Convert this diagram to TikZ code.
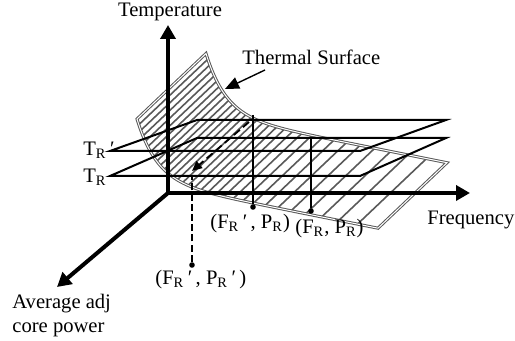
\documentclass[tikz,border=0pt]{standalone}
\usepackage{fontspec}
\setmainfont{Liberation Serif}
\usetikzlibrary{arrows.meta}

\tikzset{
  axisline/.style={line width=2pt, -{Triangle[length=7pt,width=7.5pt]}},
  planeedge/.style={line width=1pt, line join=miter},
  hatchline/.style={gray!70!black, line width=0.8pt},
  surfedge/.style={draw=gray!70!black, double=white, line width=0.5pt, double distance=0.5pt},
  lbl/.style={inner sep=0pt, font=\fontsize{10.3}{12}\selectfont},
  opdot/.style={fill=black, circle, inner sep=0pt, minimum size=2.8pt},
  dropline/.style={line width=0.9pt},
  declare function={surfy(\t)=0.2*\t+152.6-61*exp(-(\t-137)/20);}
}

\begin{document}
\begin{tikzpicture}[x=0.5pt, y=-0.5pt]
    \useasboundingbox (0,0) rectangle (515,341);

    % Thermal surface: hatch along the sheet, then its outline
    \foreach \k in {0,...,31}
        \draw[hatchline] ({115+22*exp(0.08*\k)},{surfy(115+22*exp(0.08*\k))}) -- ++(69,-65.5);
    \draw[surfedge] plot[domain=137:378, samples=90, smooth] (\x,{surfy(\x)})
        -- plot[domain=378:137, samples=90, smooth] ({\x+69},{surfy(\x)-65.5}) -- cycle;

    % Temperature planes T_R' and T_R
    \draw[planeedge] (110,151) -- (197,120) -- (446,120) -- (360,151) -- cycle;
    \draw[planeedge] (110,176) -- (197,138) -- (446,138) -- (360,176) -- cycle;

    % Axes
    \coordinate (O) at (168,193);
    \coordinate (Tend) at (168,25);
    \coordinate (Fend) at (470,193);
    \coordinate (Pend) at (57,287);
    \draw[axisline] (O) -- (Tend);
    \draw[axisline] (O) -- (Fend);
    \draw[axisline] (O) -- (Pend);

    % Operating points on the surface
    \coordinate (top1) at (253,115);
    \coordinate (top2) at (311,138);
    \node[opdot] (fr1) at (253,207) {};
    \node[opdot] (fr2) at (311,211) {};
    \node[opdot] (fr3) at (192,265) {};
    \draw[dropline] (top1) -- (fr1);
    \draw[dropline] (top2) -- (fr2);

    % Shift towards P_R'
    \coordinate (shiftA) at (249,122);
    \coordinate (shiftB) at (192,171);
    \coordinate (dropB) at (192,176);
    \draw[line width=0.9pt, dash pattern=on 4pt off 2pt, -{Triangle[length=5pt,width=4.5pt]}] (shiftA) -- (shiftB);
    \draw[dropline, dash pattern=on 3.5pt off 1.6pt] (fr3) -- (dropB);

    % Labels
    \node[lbl, anchor=base] (templbl) at (170,17) {Temperature};
    \node[lbl, anchor=base west] (freqlbl) at (427,225) {Frequency};
    \node[lbl, anchor=north west, align=left] (powlbl) at (12,294) {Average adj\\core power};
    \node[lbl, anchor=base west] (surflbl) at (242,65) {Thermal Surface};
    \node[lbl, anchor=base west] (trp) at (83,156) {T\textsubscript{R}\,′};
    \node[lbl, anchor=base west] (tr) at (83,183) {T\textsubscript{R}};
    \node[lbl, anchor=base west] (p1lbl) at (210,229) {(F\textsubscript{R}\,′\,, P\textsubscript{R})};
    \node[lbl, anchor=base west] (p2lbl) at (295,234) {(F\textsubscript{R}, P\textsubscript{R})};
    \node[lbl, anchor=base west] (p3lbl) at (155,285) {(F\textsubscript{R}\,′\,, P\textsubscript{R}\,′\,)};

    % Pointer to the surface
    \coordinate (surftail) at (265,70);
    \coordinate (surftip) at (225,89);
    \draw[line width=0.7pt, -{Triangle[length=7pt,width=6pt]}] (surftail) -- (surftip);
\end{tikzpicture}
\end{document}
